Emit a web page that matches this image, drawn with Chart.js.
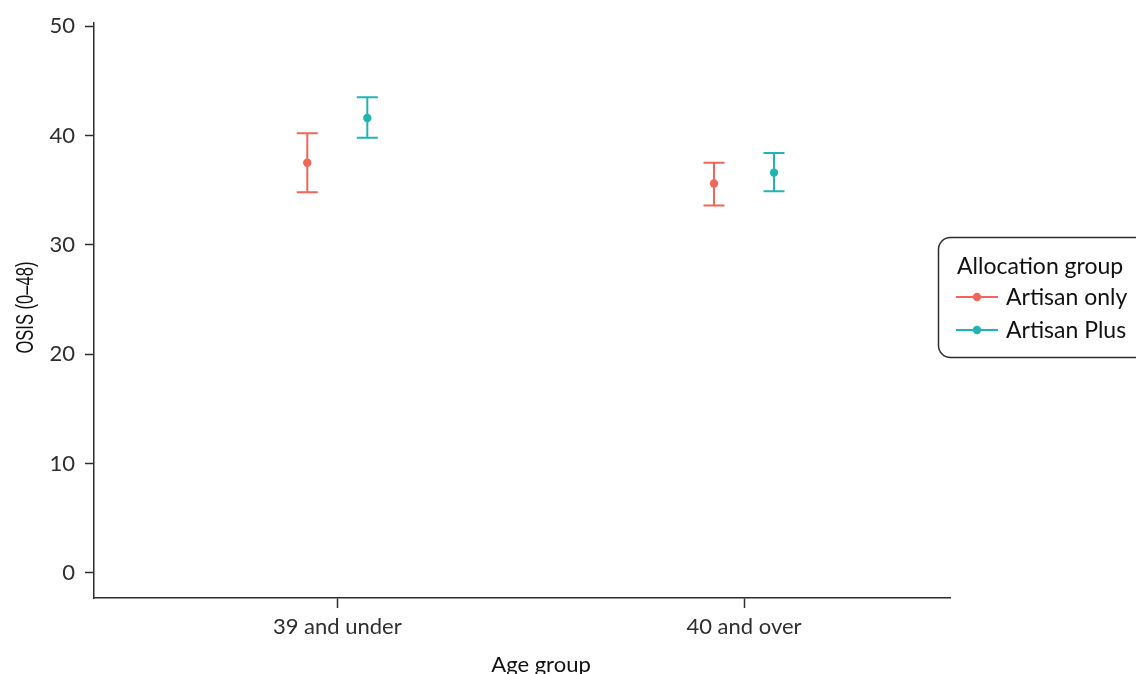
<!DOCTYPE html>
<html>
<head>
<meta charset="utf-8">
<title>OSIS by age group and allocation group</title>
<script src="https://cdn.jsdelivr.net/npm/chart.js@4/dist/chart.umd.min.js"></script>
<style>
  html, body { margin: 0; padding: 0; background: #ffffff; }
  #wrap { width: 1136px; height: 674px; }
</style>
</head>
<body>
<div id="wrap"><canvas id="chart" width="1136" height="674"></canvas></div>
<script>
// Age groups on the x axis
const categories = ['39 and under', '40 and over'];

// Mean OSIS score with 95% confidence limits, per allocation group
const artisanOnlyMean  = [37.5, 35.6];
const artisanOnlyLower = [34.8, 33.6];
const artisanOnlyUpper = [40.2, 37.5];

const artisanPlusMean  = [41.6, 36.6];
const artisanPlusLower = [39.8, 34.9];
const artisanPlusUpper = [43.5, 38.4];

// Y axis tick values
const yTicks = [0, 10, 20, 30, 40, 50];

const seriesNames = ['Artisan only', 'Artisan Plus'];
const legendTitle = 'Allocation group';
const xTitle = 'Age group';
const yTitle = 'OSIS (0\u201348)';

const RED = '#f0665a';
const TEAL = '#22b3b5';
const INK = '#2e2e2e';
const DODGE = 0.0738;   // horizontal offset of each group around the category centre

function points(means, lower, upper, shift) {
  return means.map((m, i) => ({ x: i + 1 + shift, y: m, lo: lower[i], hi: upper[i] }));
}

// Confidence interval whiskers with end caps
const errorBars = {
  id: 'errorBars',
  beforeDatasetsDraw(chart) {
    const { ctx, scales: { x, y } } = chart;
    chart.data.datasets.forEach(ds => {
      ctx.save();
      ctx.strokeStyle = ds.borderColor;
      ctx.lineWidth = 2;
      ds.data.forEach(p => {
        const px = x.getPixelForValue(p.x);
        const top = y.getPixelForValue(p.hi);
        const bot = y.getPixelForValue(p.lo);
        const cap = 10.5;
        ctx.beginPath();
        ctx.moveTo(px, top); ctx.lineTo(px, bot);
        ctx.moveTo(px - cap, top); ctx.lineTo(px + cap, top);
        ctx.moveTo(px - cap, bot); ctx.lineTo(px + cap, bot);
        ctx.stroke();
      });
      ctx.restore();
    });
  }
};

// Axis titles and the boxed legend to the right of the panel
const sideLegend = {
  id: 'sideLegend',
  afterDraw(chart) {
    const { ctx, chartArea } = chart;
    ctx.save();
    // x axis title
    ctx.fillStyle = '#111';
    ctx.font = '22px Lato, "Open Sans", sans-serif';
    ctx.textAlign = 'center';
    ctx.textBaseline = 'alphabetic';
    ctx.fillText(xTitle, 541, 672);

    // y axis title, set in a condensed sans
    ctx.save();
    ctx.translate(33, (chartArea.top + chartArea.bottom) / 2 - 3);
    ctx.rotate(-Math.PI / 2);
    ctx.scale(0.72, 1);
    ctx.font = '23px "Liberation Sans", Arial, sans-serif';
    ctx.textAlign = 'center';
    ctx.fillText(yTitle, 0, 0);
    ctx.restore();

    // legend frame
    const bx = 938.5, by = 237.5, bw = 230, bh = 120, r = 12;
    ctx.beginPath();
    ctx.moveTo(bx + r, by);
    ctx.lineTo(bx + bw - r, by);
    ctx.arcTo(bx + bw, by, bx + bw, by + r, r);
    ctx.lineTo(bx + bw, by + bh - r);
    ctx.arcTo(bx + bw, by + bh, bx + bw - r, by + bh, r);
    ctx.lineTo(bx + r, by + bh);
    ctx.arcTo(bx, by + bh, bx, by + bh - r, r);
    ctx.lineTo(bx, by + r);
    ctx.arcTo(bx, by, bx + r, by, r);
    ctx.closePath();
    ctx.fillStyle = '#ffffff';
    ctx.fill();
    ctx.strokeStyle = INK;
    ctx.lineWidth = 1.5;
    ctx.stroke();

    ctx.textAlign = 'left';
    ctx.textBaseline = 'alphabetic';
    ctx.fillStyle = '#111';
    ctx.font = '23px Lato, "Open Sans", sans-serif';
    ctx.fillText(legendTitle, 957, 274);

    const rows = [297, 330];
    chart.data.datasets.forEach((ds, i) => {
      const yy = rows[i];
      ctx.strokeStyle = ds.borderColor;
      ctx.lineWidth = 2;
      ctx.beginPath();
      ctx.moveTo(956, yy); ctx.lineTo(998, yy);
      ctx.stroke();
      ctx.fillStyle = ds.backgroundColor;
      ctx.beginPath();
      ctx.arc(977, yy, 4.2, 0, Math.PI * 2);
      ctx.fill();
      ctx.fillStyle = '#111';
      ctx.fillText(ds.label, 1006, yy + 8);
    });
    ctx.restore();
  }
};

new Chart(document.getElementById('chart'), {
  type: 'scatter',
  data: {
    datasets: [
      {
        label: seriesNames[0],
        data: points(artisanOnlyMean, artisanOnlyLower, artisanOnlyUpper, -DODGE),
        borderColor: RED, backgroundColor: RED,
        pointRadius: 4.2, pointBorderWidth: 0, showLine: false
      },
      {
        label: seriesNames[1],
        data: points(artisanPlusMean, artisanPlusLower, artisanPlusUpper, DODGE),
        borderColor: TEAL, backgroundColor: TEAL,
        pointRadius: 4.2, pointBorderWidth: 0, showLine: false
      }
    ]
  },
  options: {
    responsive: false,
    animation: false,
    events: [],
    layout: { padding: { top: 21, right: 186, left: 0, bottom: 0 } },
    plugins: { legend: { display: false }, tooltip: { enabled: false } },
    scales: {
      x: {
        type: 'linear',
        min: 0.4018,
        max: 2.5065,
        afterBuildTicks(scale) { scale.ticks = categories.map((c, i) => ({ value: i + 1 })); },
        afterFit(scale) { scale.height = 76; },
        ticks: {
          callback: (v) => categories[Math.round(v) - 1] ?? '',
          color: INK,
          font: { family: 'Lato, "Open Sans", sans-serif', size: 22 },
          padding: 6,
          maxRotation: 0
        },
        grid: { drawOnChartArea: false, drawTicks: true, tickLength: 10, tickColor: INK, tickWidth: 1.5 },
        border: { display: true, color: INK, width: 1.5 },
        title: { display: false }
      },
      y: {
        type: 'linear',
        min: -2.31,
        max: 50.27,
        afterBuildTicks(scale) { scale.ticks = yTicks.map(v => ({ value: v })); },
        afterFit(scale) { scale.width = 94; },
        ticks: {
          color: INK,
          font: { family: 'Lato, "Open Sans", sans-serif', size: 22 },
          padding: 10
        },
        grid: { drawOnChartArea: false, drawTicks: true, tickLength: 9, tickColor: INK, tickWidth: 1.5 },
        border: { display: true, color: INK, width: 1.5 },
        title: { display: false }
      }
    }
  },
  plugins: [errorBars, sideLegend]
});
</script>
</body>
</html>
